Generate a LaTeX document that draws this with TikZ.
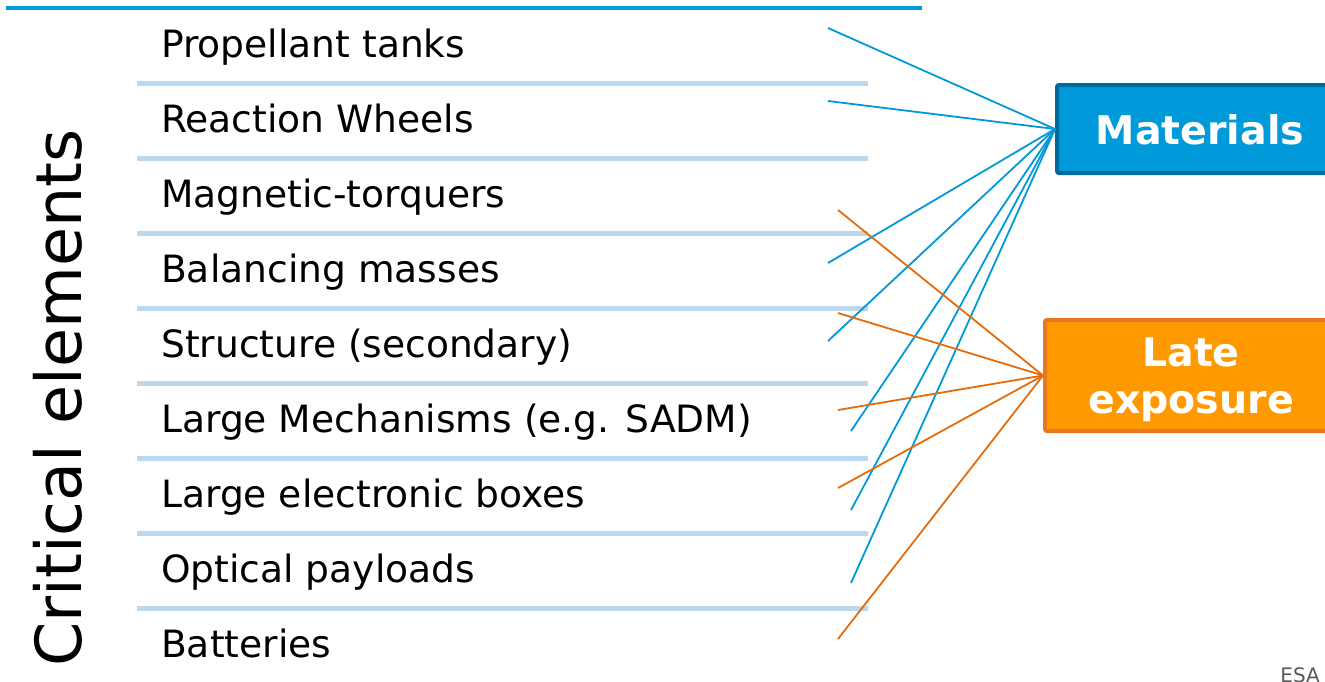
\documentclass[tikz,border=0pt]{standalone}
\usepackage{fontspec}
\setmainfont{DejaVu Sans}
\usetikzlibrary{positioning}
\definecolor{HeaderBlue}{HTML}{0099DA}
\definecolor{RuleBlue}{HTML}{BDD7EE}
\definecolor{MaterialBlue}{HTML}{0099DA}
\definecolor{MaterialEdge}{HTML}{006A9E}
\definecolor{ExposureOrange}{HTML}{FF9900}
\definecolor{ExposureEdge}{HTML}{E87722}
\definecolor{ExposureLine}{HTML}{E46C0A}
\definecolor{CreditGrey}{HTML}{595959}

\begin{document}
\begin{tikzpicture}[
 x=1pt,y=-1pt,
 item/.style={anchor=base west,inner sep=0pt,font=\fontsize{37.6}{44}\selectfont},
 rowrule/.style={draw=RuleBlue,line width=4.5pt},
 target/.style={rounded corners=2pt,line width=4pt,text=white,align=center,
   text depth=0pt,font=\bfseries\fontsize{39.5}{47}\selectfont},
 matflow/.style={draw=MaterialBlue,line width=1.8pt},
 lateflow/.style={draw=ExposureLine,line width=1.8pt}
]
 \useasboundingbox (0,0) rectangle (1325,681);
 % header rule and row separators
 \draw[draw=HeaderBlue,line width=4pt] (6,8)--(922,8);
 \foreach \k in {1,...,8}
   \draw[rowrule] (137,8.5+75*\k)--(868,8.5+75*\k);
 % list of elements
 \foreach \n/\t [count=\k from 0] in {tanks/Propellant tanks,
   wheels/Reaction Wheels,torquers/Magnetic-torquers,masses/Balancing masses,
   structure/Structure (secondary),mechanisms/Large Mechanisms (e.g. SADM),
   boxes/Large electronic boxes,optics/Optical payloads,batteries/Batteries}
   \node[item] (\n) at (161,57+75*\k) {\t};
 \node[rotate=90,anchor=base west,inner sep=0pt,
   font=\fontsize{63.5}{70}\selectfont] (title) at (81,667) {Critical elements};
 % the two drivers
 \node[target,draw=MaterialEdge,fill=MaterialBlue,
   minimum width=286pt,minimum height=88pt] (materials) at (1200,129) {Materials};
 \node[target,draw=ExposureEdge,fill=ExposureOrange,
   minimum width=292pt,minimum height=111pt] (late) at (1191,375.5) {Late\\exposure};
 % links
 \foreach \n/\x/\y in {tanks/828/28,wheels/828/101,masses/828/263,
   structure/828/341,mechanisms/851/431,boxes/851/510,optics/851/583}{
   \coordinate (\n-m) at (\x,\y);
   \draw[matflow] (\n-m)--(materials.west);
 }
 \foreach \n/\x/\y in {torquers/838/210,structure/838/313,mechanisms/838/410,
   boxes/838/488,batteries/838/639}{
   \coordinate (\n-l) at (\x,\y);
   \draw[lateflow] (\n-l)--(late.west);
 }
 \node[anchor=base east,inner sep=0pt,text=CreditGrey,
   font=\fontsize{20}{24}\selectfont] (credit) at (1320,682) {ESA};
\end{tikzpicture}
\end{document}
